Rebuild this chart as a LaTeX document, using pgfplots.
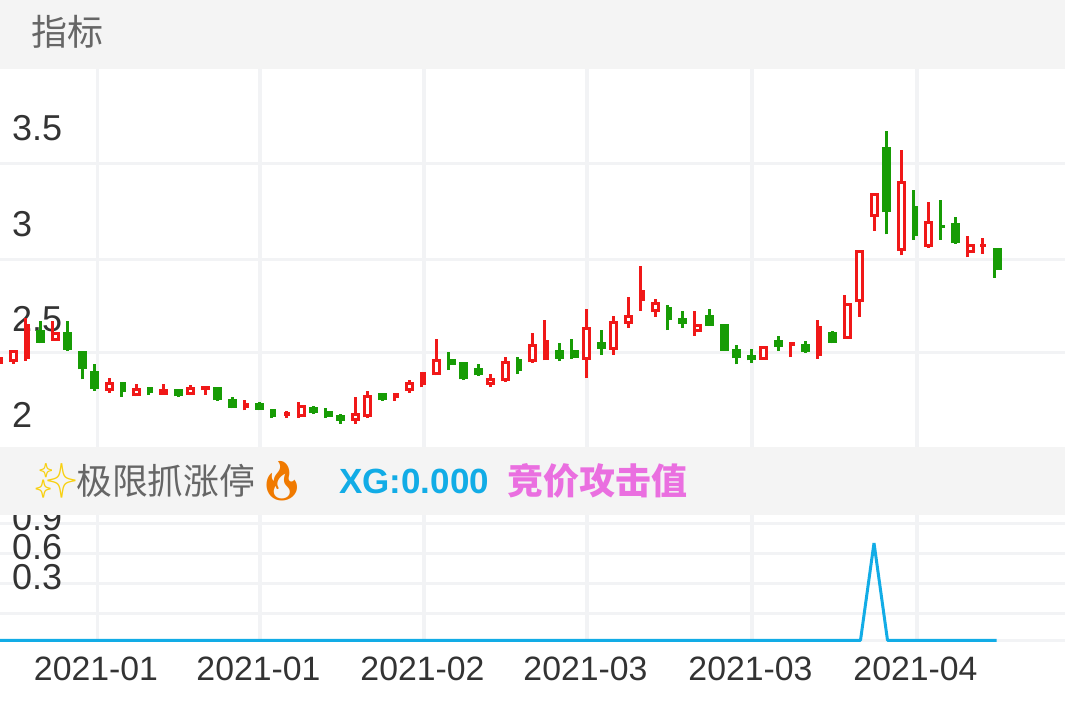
\documentclass[border=0pt]{standalone}
\usepackage{fontspec}
\usepackage{pgfplots}
\usepackage{pgfplotstable}
\pgfplotsset{compat=1.18}
\setmainfont{Liberation Sans}
\newfontfamily\cjk{Noto Sans CJK SC}
\newfontfamily\emoji{Noto Emoji}

\definecolor{upred}{HTML}{F01818}
\definecolor{downgreen}{HTML}{179C05}
\definecolor{gridc}{HTML}{F2F3F5}
\definecolor{barc}{HTML}{F4F4F4}
\definecolor{labelc}{HTML}{333333}
\definecolor{xgblue}{HTML}{12ACE6}
\definecolor{pinkc}{HTML}{EA6FE0}
\definecolor{sparkc}{HTML}{F8D010}
\definecolor{flamec}{HTML}{F07A00}

% wicks: x lo hi
\pgfplotstableread{
x lo hi
13.5 2.267 2.341
25.5 2.284 2.505
52.5 2.388 2.493
109.5 2.117 2.195
136.5 2.098 2.164
163.5 2.106 2.164
190.5 2.103 2.155
205.5 2.104 2.153
244.5 2.024 2.077
286.5 1.984 2.023
298.5 1.986 2.066
355.5 1.955 2.096
367.5 1.984 2.124
394.5 2.075 2.113
409.5 2.117 2.185
421.5 2.145 2.223
436.5 2.207 2.395
490.5 2.145 2.212
505.5 2.174 2.305
532.5 2.273 2.427
544.5 2.287 2.496
586.5 2.193 2.554
613.5 2.314 2.516
628.5 2.455 2.615
640.5 2.544 2.777
655.5 2.514 2.605
694.5 2.413 2.545
790.5 2.303 2.383
817.5 2.294 2.496
844.5 2.399 2.625
859.5 2.514 2.861
874.5 2.963 3.162
901.5 2.834 3.383
928.5 2.873 3.115
967.5 2.824 2.934
982.5 2.843 2.925
}\redwicks
\pgfplotstableread{
x lo hi
40.5 2.374 2.493
67.5 2.336 2.493
82.5 2.186 2.334
94.5 2.127 2.265
121.5 2.096 2.172
148.5 2.104 2.145
178.5 2.094 2.134
217.5 2.075 2.145
232.5 2.035 2.096
259.5 2.024 2.066
271.5 1.984 2.033
313.5 2.005 2.047
325.5 1.984 2.037
340.5 1.955 2.005
382.5 2.075 2.113
448.5 2.235 2.327
463.5 2.183 2.275
478.5 2.204 2.265
517.5 2.214 2.305
559.5 2.282 2.374
571.5 2.293 2.395
601.5 2.314 2.444
667.5 2.444 2.575
682.5 2.455 2.545
709.5 2.465 2.554
736.5 2.265 2.366
751.5 2.274 2.345
778.5 2.335 2.415
805.5 2.326 2.387
832.5 2.375 2.437
886.5 2.944 3.484
913.5 2.915 3.176
940.5 2.915 3.125
955.5 2.895 3.035
994.5 2.716 2.873
}\greenwicks

% bodies: x lo hi
\pgfplotstableread{
x lo hi
-1.5 2.268 2.303
163.5 2.106 2.134
205.5 2.129 2.153
}\redwide
\pgfplotstableread{
x lo hi
27 2.291 2.476
246 2.037 2.064
286.5 1.996 2.017
396 2.089 2.113
423 2.157 2.223
546 2.287 2.392
642 2.598 2.653
792 2.359 2.383
819 2.308 2.463
982.5 2.880 2.892
}\rednarrow
\pgfplotstableread{
x lo hi
13.5 2.277 2.341
55.5 2.388 2.434
109.5 2.127 2.172
136.5 2.098 2.141
190.5 2.106 2.145
301.5 1.988 2.050
355.5 1.970 2.012
367.5 1.988 2.103
409.5 2.127 2.172
436.5 2.207 2.291
490.5 2.157 2.192
505.5 2.176 2.280
532.5 2.277 2.371
586.5 2.288 2.462
613.5 2.340 2.493
628.5 2.477 2.523
655.5 2.538 2.592
697.5 2.436 2.474
763.5 2.288 2.361
847.5 2.399 2.584
859.5 2.589 2.861
874.5 3.037 3.162
901.5 2.859 3.221
928.5 2.878 3.012
970.5 2.848 2.892
}\redhollow
\pgfplotstableread{
x lo hi
40.5 2.378 2.444
67.5 2.340 2.432
82.5 2.239 2.334
94.5 2.138 2.232
178.5 2.098 2.134
217.5 2.077 2.145
232.5 2.038 2.082
259.5 2.028 2.063
313.5 2.009 2.043
328.5 1.988 2.023
340.5 1.970 2.002
382.5 2.078 2.113
451.5 2.260 2.291
463.5 2.186 2.275
478.5 2.207 2.244
559.5 2.294 2.341
574.5 2.296 2.341
601.5 2.347 2.383
682.5 2.476 2.505
709.5 2.465 2.523
724.5 2.336 2.474
736.5 2.296 2.343
751.5 2.286 2.314
778.5 2.355 2.392
805.5 2.329 2.371
832.5 2.378 2.434
886.5 3.059 3.402
955.5 2.897 3.002
997.5 2.758 2.873
}\greenwide
\pgfplotstableread{
x lo hi
123 2.120 2.172
150 2.117 2.145
273 1.988 2.033
519 2.228 2.291
669 2.497 2.563
915 2.937 3.092
941.5 2.979 2.991
}\greennarrow

\pgfplotsset{
  candle/.style n args={3}{forget plot, draw=none, mark=none,
    error bars/.cd, y dir=plus, y explicit, error mark=none,
    error bar style={draw=#1, line width=#2pt, solid}},
  chartbase/.style={
    scale only axis, width=1065pt, xmin=0, xmax=1065,
    axis line style={draw=none}, tick style={draw=none},
    xtick={97.5,260,424,587,752,917},
    xmajorgrids=true, ymajorgrids=true,
    grid style={gridc, line width=3.2pt},
    yticklabels={},
    extra y tick style={grid=none,
      yticklabel style={anchor=west, inner sep=0pt, xshift=12pt,
        font=\fontsize{36}{36}\selectfont, text=labelc}},
  },
}

\begin{document}
\begin{tikzpicture}[x=1pt,y=1pt]
\path[use as bounding box] (0,0) rectangle (1065,708);

% candles
\begin{axis}[chartbase, at={(0pt,261pt)}, anchor=south west, height=378pt,
  ymin=1.833, ymax=3.808,
  xticklabels={},
  ytick={2.3277,2.8137,3.3155},
  extra y ticks={2,2.5,3,3.5}, extra y tick labels={2,2.5,3,3.5},
]
\addplot[candle={upred}{3.2}{}] table[x=x,y=lo,y error plus expr=\thisrow{hi}-\thisrow{lo}] {\redwicks};
\addplot[candle={downgreen}{3.2}{}] table[x=x,y=lo,y error plus expr=\thisrow{hi}-\thisrow{lo}] {\greenwicks};
\addplot[candle={upred}{9}{}] table[x=x,y=lo,y error plus expr=\thisrow{hi}-\thisrow{lo}] {\redwide};
\addplot[candle={upred}{6}{}] table[x=x,y=lo,y error plus expr=\thisrow{hi}-\thisrow{lo}] {\rednarrow};
\addplot[candle={upred}{9}{}] table[x=x,y=lo,y error plus expr=\thisrow{hi}-\thisrow{lo}] {\redhollow};
\addplot[candle={white}{2.8}{}] table[x=x,y expr=\thisrow{lo}+0.0157,y error plus expr=\thisrow{hi}-\thisrow{lo}-0.0314] {\redhollow};
\addplot[candle={downgreen}{9}{}] table[x=x,y=lo,y error plus expr=\thisrow{hi}-\thisrow{lo}] {\greenwide};
\addplot[candle={downgreen}{6}{}] table[x=x,y=lo,y error plus expr=\thisrow{hi}-\thisrow{lo}] {\greennarrow};
\end{axis}

% XG line
\begin{axis}[chartbase, at={(0pt,66pt)}, anchor=south west, height=127pt,
  ymin=-0.0173, ymax=1.2747,
  xticklabels={2021-01,2021-01,2021-02,2021-03,2021-03,2021-04},
  xticklabel style={font=\fontsize{33.8}{34}\selectfont, text=labelc, xshift=-1.5pt, yshift=-11pt},
  ytick={0,0.275,0.580,0.885,1.190},
  extra y ticks={0.3,0.6,0.9}, extra y tick labels={0.3,0.6,0.9},
  extra y tick style={yticklabel style={yshift=33.8pt}},
]
\addplot[xgblue, line width=3pt, line join=bevel] coordinates {
  (0,0) (860.5,0) (874,0.99) (887.5,0) (996.7,0)
};
\end{axis}

% title strips
\fill[barc] (0,639) rectangle (1065,708);
\fill[barc] (0,193) rectangle (1065,261);
\node[anchor=west, inner sep=0pt, text=black!60] at (31,676) {\fontsize{36}{36}\selectfont\cjk 指标};
\node[anchor=west, inner sep=0pt, text=sparkc] at (34,227) {\fontsize{34}{34}\selectfont\emoji ✨};
\node[anchor=west, inner sep=0pt, text=black!60] at (76,227) {\fontsize{35.8}{36}\selectfont\cjk 极限抓涨停};
\node[anchor=west, inner sep=0pt, text=flamec] at (257,227) {\fontsize{39}{39}\selectfont\emoji 🔥};
\node[anchor=west, inner sep=0pt, text=xgblue] at (339,227) {\fontsize{35}{36}\selectfont\bfseries XG:0.000};
\node[anchor=west, inner sep=0pt, text=pinkc] at (507,227) {\fontsize{36}{36}\selectfont\cjk\bfseries 竞价攻击值};
\end{tikzpicture}
\end{document}
